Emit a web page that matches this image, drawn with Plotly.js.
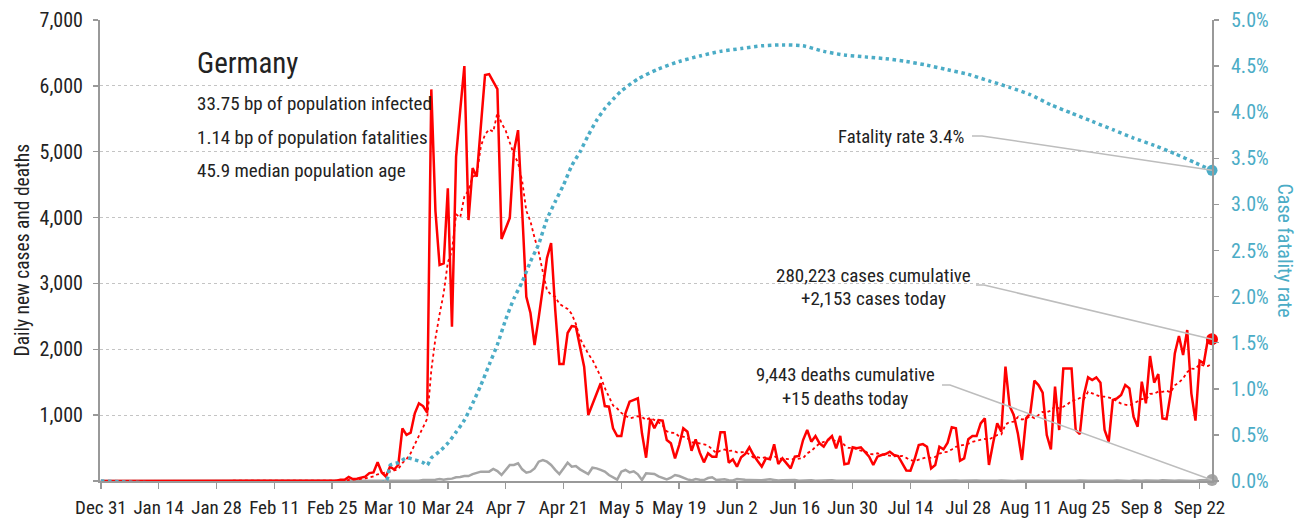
<!DOCTYPE html>
<html>
<head>
<meta charset="utf-8">
<script src="https://cdn.plot.ly/plotly-3.0.1.min.js"></script>
<style>html,body{margin:0;padding:0;background:#fff;}#chart{width:1307px;height:523px;}</style>
</head>
<body>
<div id="chart"></div>
<script>
// ---- Data ----
const startDate = '2019-12-31';   // day index 0
const dailyCases = [
  0,0,0,0,0,0,0,0,0,0,
  0,0,0,0,0,0,0,0,0,0,
  0,0,0,0,0,0,0,0,1,3,
  0,1,3,0,1,1,0,0,0,0,
  2,0,0,0,0,0,0,0,0,0,
  0,0,0,0,0,0,2,5,18,20,
  60,30,35,45,66,120,130,284,130,66,
  217,175,243,800,700,733,1027,1179,1138,1037,
  5946,4100,3279,3305,4443,2343,4924,5632,6300,3962,
  4751,4620,5400,6163,6178,6062,5950,3674,3830,3993,
  4999,5328,4100,2798,2550,2065,2480,2900,3385,3613,
  2596,1776,1776,2247,2353,2343,2050,1735,1002,1160,
  1320,1483,1138,1128,800,683,683,1027,1204,1230,
  1255,724,354,941,800,926,916,622,572,344,
  546,800,749,460,632,430,283,420,369,369,
  739,739,278,329,218,359,410,511,395,304,
  218,344,329,557,258,344,268,192,369,380,
  622,774,597,683,572,521,622,683,496,683,
  253,268,511,496,511,445,369,243,369,395,
  410,445,395,380,268,160,157,330,546,560,
  521,192,243,521,481,582,815,800,309,344,
  633,683,683,875,951,243,572,875,749,1736,
  1139,1002,723,319,951,1027,1523,1457,1341,698,
  481,1432,774,1710,1710,1710,774,713,1305,1574,
  1533,1574,1493,774,597,1230,1255,1305,1457,1407,
  977,825,1508,1179,1898,1493,1624,951,941,1331,
  1938,2201,1913,2292,1331,916,1827,1786,2153,2153
];
const dailyDeaths = [
  0,0,0,0,0,0,0,0,0,0, 0,0,0,0,0,0,0,0,0,0,
  0,0,0,0,0,0,0,0,0,0, 0,0,0,0,0,0,0,0,0,0,
  0,0,0,0,0,0,0,0,0,0, 0,0,0,0,0,0,0,0,0,0,
  0,0,0,0,0,0,0,0,0,0,
  2,0,3,2,4,4,9,5,16,18,
  13,20,31,19,31,36,56,60,76,75,
  104,126,142,142,142,182,150,91,170,243,
  243,268,177,126,142,192,293,319,293,243,
  170,106,190,278,218,228,177,140,106,202,
  192,170,142,91,51,20,142,167,131,147,
  101,15,116,110,106,70,45,25,50,91,
  75,45,25,10,30,20,15,45,56,15,
  20,25,10,8,30,20,18,15,12,8,
  10,20,25,15,6,10,12,8,14,5,
  10,8,12,3,6,8,5,10,4,3,
  6,4,5,8,3,2,5,6,4,3,
  2,5,4,3,1,2,4,6,3,2,
  5,3,1,4,7,2,5,6,3,1,
  2,4,6,5,2,1,6,4,7,3,
  2,1,4,6,5,8,5,2,1,5,
  6,3,7,2,1,3,4,6,10,5,
  3,2,1,7,4,5,8,3,2,1,
  9,3,4,6,2,1,3,10,6,4,
  5,8,7,3,2,1,12,14,10,15
];
// Case fatality rate (%), read at these day indices
const cfrDay = [0,69,70,72,74,76,78,79,80,82,84,86,88,90,92,94,96,98,100,102,104,106,108,110,112,114,116,118,120,122,124,126,130,135,140,145,150,155,160,165,170,175,180,185,190,195,200,205,210,215,220,225,230,235,240,245,250,255,260,265,269];
const cfrPct = [0,0,0.17,0.20,0.25,0.23,0.20,0.17,0.25,0.32,0.41,0.53,0.66,0.84,1.04,1.26,1.48,1.75,1.98,2.16,2.38,2.57,2.84,3.03,3.21,3.42,3.57,3.75,3.91,4.04,4.14,4.23,4.36,4.47,4.55,4.61,4.66,4.69,4.72,4.73,4.72,4.66,4.62,4.60,4.58,4.55,4.51,4.46,4.41,4.34,4.27,4.19,4.08,3.99,3.90,3.81,3.72,3.64,3.55,3.45,3.37];
const yLeftTicks = [0,1000,2000,3000,4000,5000,6000,7000];
const yLeftTickText = ['', '1,000','2,000','3,000','4,000','5,000','6,000','7,000'];
const infoLines = ['33.75 bp of population infected','1.14 bp of population fatalities','45.9 median population age'];
const countryName = 'Germany';
const casesCumText = '280,223 cases cumulative';
const casesTodayText = '+2,153 cases today';
const deathsCumText = '9,443 deaths cumulative';
const deathsTodayText = '+15 deaths today';
const fatalityText = 'Fatality rate 3.4%';

// ---- helpers ----
const DAY = 86400000;
const t0 = Date.parse(startDate + 'T00:00:00Z');
function dayToDate(d){ return new Date(t0 + d*DAY).toISOString().slice(0,10); }
const dates = dailyCases.map((_, i) => dayToDate(i));
const cfrDates = cfrDay.map(dayToDate);
// trailing 7-day average of daily cases
const avg7 = dailyCases.map((_, i) => {
  const s = Math.max(0, i-6); const w = dailyCases.slice(s, i+1);
  return w.reduce((a,b)=>a+b,0)/w.length;
});
const last = dates.length - 1;

const RED = '#ff0000', BLUE = '#4BACC6', GREY = '#a5a5a5';
const FONT = '"Liberation Sans Narrow", "Arial Narrow", "Roboto Condensed", sans-serif';

const traces = [
  {x: dates, y: dailyDeaths, type:'scatter', mode:'lines', line:{color:GREY, width:2.5}, hoverinfo:'skip'},
  {x: dates, y: avg7, type:'scatter', mode:'lines', line:{color:RED, width:1.8, dash:'dot'}, hoverinfo:'skip'},
  {x: dates, y: dailyCases, type:'scatter', mode:'lines', line:{color:RED, width:2.5}, hoverinfo:'skip'},
  {x: cfrDates, y: cfrPct, type:'scatter', mode:'lines', yaxis:'y2', line:{color:BLUE, width:3.5, dash:'dot', shape:'spline', smoothing:0.6}, hoverinfo:'skip'},
  {x: [dates[last]], y: [dailyCases[last]], type:'scatter', mode:'markers', marker:{color:RED, size:12}, cliponaxis:false},
  {x: [cfrDates[cfrDates.length-1]], y: [cfrPct[cfrPct.length-1]], yaxis:'y2', type:'scatter', mode:'markers', marker:{color:BLUE, size:11}, cliponaxis:false},
  {x: [dates[last]], y: [dailyDeaths[last]], type:'scatter', mode:'markers', marker:{color:GREY, size:12}, cliponaxis:false}
];

// plot-area geometry (pixels) for placing annotations
const L = 100, R = 95, T = 20, B = 42, W = 1307, H = 523;
const PW = W - L - R, PH = H - T - B;
const px = x => (x - L) / PW;
const py = y => (H - B - y) / PH;

const ann = [];
function txt(text, x, y, anchor, size, extra){
  ann.push(Object.assign({text, xref:'paper', yref:'paper', x:px(x), y:py(y), xanchor:anchor, yanchor:'middle', showarrow:false, font:{family:FONT, size:size, color:'#222'}}, extra||{}));
}
txt(countryName, 195, 63, 'left', 29);
txt(infoLines[0], 195, 103, 'left', 19);
txt(infoLines[1], 195, 137, 'left', 19);
txt(infoLines[2], 195, 171, 'left', 19);
txt(fatalityText, 966, 137, 'right', 18.7);
txt(casesCumText, 873, 275, 'center', 19);
txt(casesTodayText, 873, 298, 'center', 19);
txt(deathsCumText, 845, 375, 'center', 18.6);
txt(deathsTodayText, 845, 399, 'center', 18.6);
// axis titles
ann.push({text:'Daily new cases and deaths', xref:'paper', yref:'paper', x:0, y:0.5, xshift:-78, xanchor:'center', yanchor:'middle', textangle:-90, showarrow:false, font:{family:FONT, size:19.5, color:'#222'}});
ann.push({text:'Case fatality rate', xref:'paper', yref:'paper', x:1, y:0.5, xshift:73, xanchor:'center', yanchor:'middle', textangle:90, showarrow:false, font:{family:FONT, size:20, color:BLUE}});

// leader lines from labels to last points
function leader(x1, y1, x2, yEndPaper){
  return {type:'path', xref:'paper', yref:'paper',
    path:`M ${px(x1)} ${py(y1)} L ${px(x2)} ${py(y1)} L 1 ${yEndPaper}`,
    line:{color:'#bdbdbd', width:1.5}};
}
const shapes = [
  leader(972, 136, 982, cfrPct[cfrPct.length-1]/5),
  leader(976, 285, 984, dailyCases[last]/7000),
  leader(942, 385, 950, dailyDeaths[last]/7000)
];

const layout = {
  width: W, height: H,
  margin:{l:L, r:R, t:T, b:B, pad:0},
  paper_bgcolor:'#ffffff', plot_bgcolor:'#ffffff',
  font:{family:FONT, size:20, color:'#222'},
  showlegend:false,
  xaxis:{type:'date', range:['2019-12-30 19:00','2020-09-25'], tick0:startDate, dtick:14*DAY,
    tickformat:'%b %-d', tickangle:0, ticks:'outside', ticklen:6, tickwidth:1.5, tickcolor:'#999',
    showline:true, linecolor:'#999', linewidth:2, showgrid:false, zeroline:false,
    tickfont:{family:FONT, size:19, color:'#222'}, ticklabelstandoff:2},
  yaxis:{range:[0,7000], tickvals:yLeftTicks, ticktext:yLeftTickText, ticks:'outside', ticklen:5, tickwidth:1.5, tickcolor:'#999',
    showline:true, linecolor:'#999', linewidth:2, showgrid:true, gridcolor:'#c4c4c4', griddash:'dot', gridwidth:1,
    zeroline:false, tickfont:{family:FONT, size:20, color:'#222'}, ticklabelstandoff:6},
  yaxis2:{overlaying:'y', side:'right', range:[0,5], dtick:0.5, tick0:0, tickformat:'.1f', ticksuffix:'%',
    ticks:'outside', ticklen:5, tickwidth:1.5, tickcolor:'#999', showline:true, linecolor:'#999', linewidth:2,
    showgrid:false, zeroline:false, tickfont:{family:FONT, size:20, color:BLUE}, ticklabelstandoff:8},
  annotations: ann,
  shapes: shapes
};

Plotly.newPlot('chart', traces, layout, {staticPlot:true, displayModeBar:false});
</script>
</body>
</html>
